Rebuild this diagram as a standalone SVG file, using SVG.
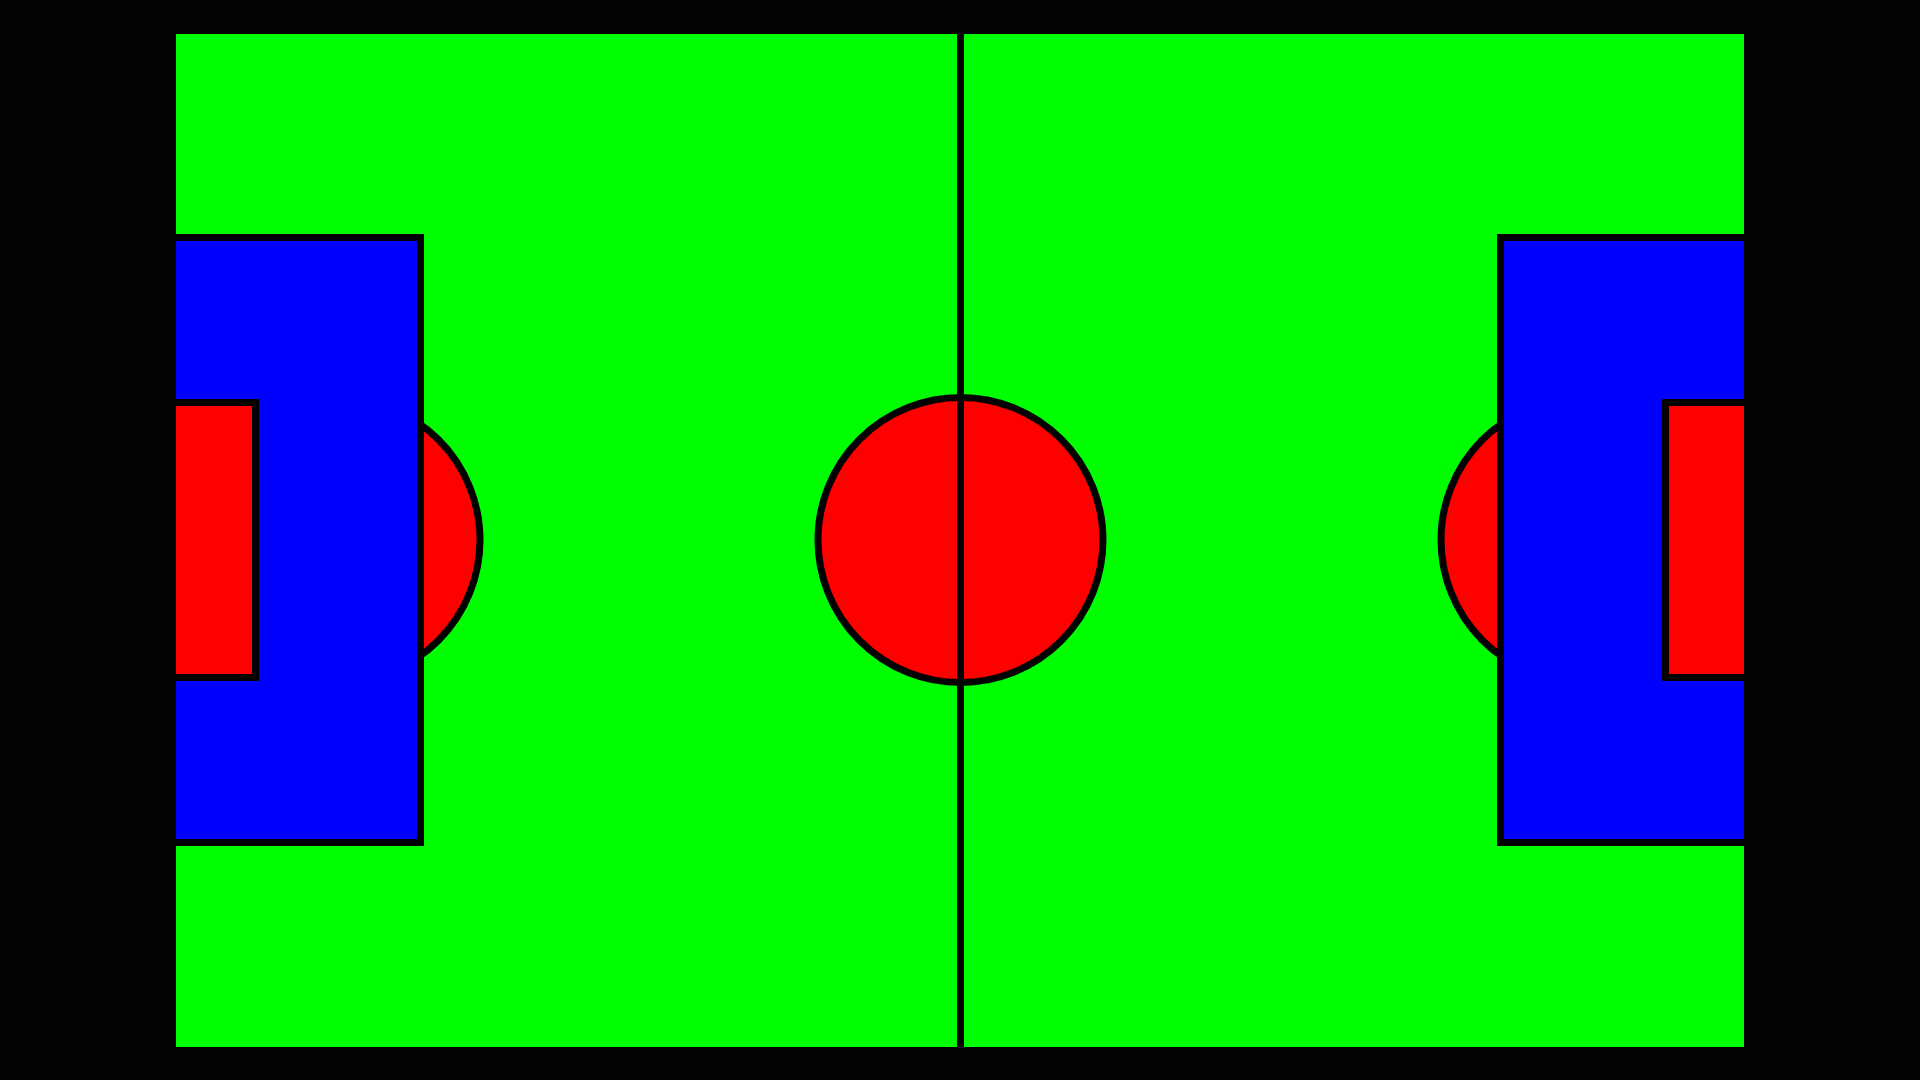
<svg xmlns="http://www.w3.org/2000/svg" width="1920" height="1080" viewBox="0 0 1920 1080">
<style>
.ln{stroke:#000;stroke-width:7;}
.red{fill:#ff0000;}
.blue{fill:#0000ff;}
.bg{fill:#020202;}
</style>
<rect class="bg" x="0" y="0" width="1920" height="1080"/>
<rect id="field" x="176" y="34" width="1568" height="1013" fill="#00ff00"/>
<g id="left-arc"><circle class="red ln" cx="338" cy="540" r="142"/></g>
<g id="right-arc"><circle class="red ln" cx="1583" cy="540" r="142"/></g>
<g id="left-penalty-box"><rect class="blue ln" x="168" y="237.5" width="252.5" height="605"/></g>
<g id="right-penalty-box"><rect class="blue ln" x="1500.5" y="237.5" width="252" height="605"/></g>
<g id="left-goal-area"><rect class="red ln" x="168" y="402.5" width="87.5" height="275"/></g>
<g id="right-goal-area"><rect class="red ln" x="1665.5" y="402.5" width="87" height="275"/></g>
<g id="center-circle"><circle class="red ln" cx="960.5" cy="540" r="142.5"/></g>
<g id="connectors"><line class="ln" x1="960.5" y1="34" x2="960.5" y2="1047"/></g>
<rect class="bg" x="0" y="0" width="176" height="1080"/>
<rect class="bg" x="1744" y="0" width="176" height="1080"/>
</svg>
